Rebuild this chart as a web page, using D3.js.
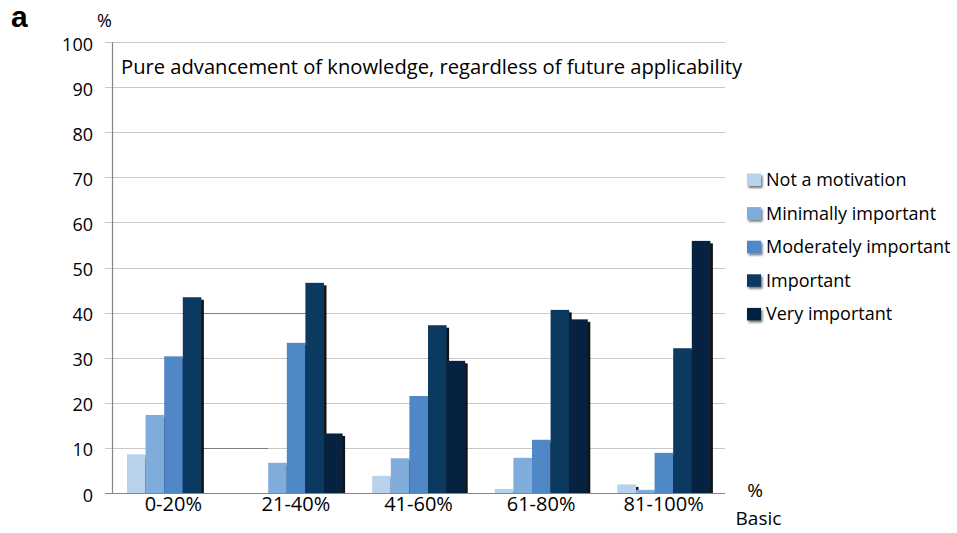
<!DOCTYPE html>
<html>
<head>
<meta charset="utf-8">
<script src="https://cdn.jsdelivr.net/npm/d3@7"></script>
<style>
  html, body { margin: 0; padding: 0; background: #fff; }
  svg { display: block; }
  text { font-family: "Open Sans", sans-serif; fill: #000; }
</style>
</head>
<body>
<svg id="chart" width="957" height="533"></svg>
<script>
// ---- data ----
const categories = ["0-20%", "21-40%", "41-60%", "61-80%", "81-100%"];
const seriesNames = ["Not a motivation", "Minimally important", "Moderately important", "Important", "Very important"];
const notMotivation = [8.6, 0, 3.8, 0.9, 1.9];
const minimallyImportant = [17.3, 6.7, 7.7, 7.8, 0.7];
const moderatelyImportant = [30.3, 33.3, 21.5, 11.8, 8.9];
const important = [43.4, 46.6, 37.2, 40.6, 32.1];
const veryImportant = [0, 13.2, 29.3, 38.5, 55.9];
const yTicks = [0, 10, 20, 30, 40, 50, 60, 70, 80, 90, 100];
const colors = ["#b8d2ec", "#80acdc", "#4f87c7", "#0b3960", "#062240"];
const title = "Pure advancement of knowledge, regardless of future applicability";

const seriesValues = [notMotivation, minimallyImportant, moderatelyImportant, important, veryImportant];

const svg = d3.select("#chart");

const x0 = d3.scaleBand().domain(categories).range([112, 725]).padding(0);
const x1 = d3.scaleBand().domain(seriesNames).range([15, x0.bandwidth() - 14.6]).padding(0);
const y = d3.scaleLinear().domain([0, 100]).range([493, 42]);

// defs
const defs = svg.append("defs");
const f = defs.append("filter").attr("id", "lshadow").attr("x", "-50%").attr("y", "-50%").attr("width", "200%").attr("height", "200%");
f.append("feDropShadow").attr("dx", 1.5).attr("dy", 2).attr("stdDeviation", 1).attr("flood-color", "#000").attr("flood-opacity", 0.55);

// gridlines
svg.append("g").selectAll("line").data(yTicks.filter(d => d > 0)).join("line")
  .attr("x1", 105).attr("x2", 725)
  .attr("y1", d => Math.round(y(d)) + 0.5).attr("y2", d => Math.round(y(d)) + 0.5)
  .attr("stroke", "#c9c9c9").attr("stroke-width", 1);

// darker gridline segments (rendering artefacts in original)
const darkSegs = [
  {v: 40, from: [categories[0], seriesNames[3]], to: [categories[1], seriesNames[3]]},
  {v: 10, from: [categories[0], seriesNames[3]], to: [categories[1], seriesNames[1]]}
];
svg.append("g").selectAll("line").data(darkSegs).join("line")
  .attr("x1", d => x0(d.from[0]) + x1(d.from[1]) + x1.bandwidth())
  .attr("x2", d => x0(d.to[0]) + x1(d.to[1]))
  .attr("y1", d => Math.round(y(d.v)) + 0.5).attr("y2", d => Math.round(y(d.v)) + 0.5)
  .attr("stroke", "#7f7f7f").attr("stroke-width", 1.2);

// y axis line
svg.append("line").attr("x1", 112.5).attr("x2", 112.5).attr("y1", y(100)).attr("y2", y(0))
  .attr("stroke", "#868686").attr("stroke-width", 1.2);

// y tick labels
svg.append("g").selectAll("text").data(yTicks).join("text")
  .attr("x", 93).attr("y", d => y(d) + 8.5)
  .attr("text-anchor", "end").attr("font-size", 18).text(d => d);

// bars with shadows
const barsG = svg.append("g");
seriesNames.forEach((s, si) => {
  const data = categories.map((c, ci) => ({c, s, v: seriesValues[si][ci]})).filter(d => d.v > 0);
  const g = barsG.append("g");
  g.selectAll("rect.sh").data(data).join("rect").attr("class", "sh")
    .attr("x", d => x0(d.c) + x1(d.s) + 2.5)
    .attr("y", d => y(d.v) + 2.5)
    .attr("width", x1.bandwidth())
    .attr("height", d => Math.max(0, y(0) - y(d.v) - 2.5))
    .attr("fill", "#000").attr("fill-opacity", 0.92);
  g.selectAll("rect.bar").data(data).join("rect").attr("class", "bar")
    .attr("x", d => x0(d.c) + x1(d.s))
    .attr("y", d => y(d.v))
    .attr("width", x1.bandwidth())
    .attr("height", d => y(0) - y(d.v))
    .attr("fill", colors[si]);
});

// x axis baseline
svg.append("line").attr("x1", 105).attr("x2", 725).attr("y1", y(0) + 0.5).attr("y2", y(0) + 0.5)
  .attr("stroke", "#868686").attr("stroke-width", 1.2);

// x labels
svg.append("g").selectAll("text").data(categories).join("text")
  .attr("x", d => x0(d) + x0.bandwidth() / 2).attr("y", 511)
  .attr("text-anchor", "middle").attr("font-size", 20).text(d => d);

// title inside plot
svg.append("text").attr("x", 121).attr("y", 74).attr("font-size", 20)
  .attr("textLength", 621).attr("lengthAdjust", "spacingAndGlyphs").text(title);

// axis unit labels
svg.append("text").attr("x", 104.5).attr("y", 27).attr("text-anchor", "middle").attr("font-size", 18).text("%");
svg.append("text").attr("x", 755).attr("y", 497).attr("text-anchor", "middle").attr("font-size", 19).text("%");
svg.append("text").attr("x", 758.5).attr("y", 525).attr("text-anchor", "middle").attr("font-size", 19).text("Basic");

// panel letter
svg.append("text").attr("x", 11).attr("y", 27).attr("font-size", 30).attr("font-weight", "bold")
  .style("font-family", "'Liberation Sans', Arial, sans-serif").text("a");

// legend
const leg = svg.append("g").selectAll("g").data(seriesNames).join("g")
  .attr("transform", (d, i) => `translate(747, ${173.5 + i * 33.6})`);
leg.append("rect").attr("width", 14).attr("height", 12.5)
  .attr("fill", (d, i) => colors[i]).attr("filter", "url(#lshadow)");
leg.append("text").attr("x", 19).attr("y", 12.5).attr("font-size", 18).text(d => d);
</script>
</body>
</html>
